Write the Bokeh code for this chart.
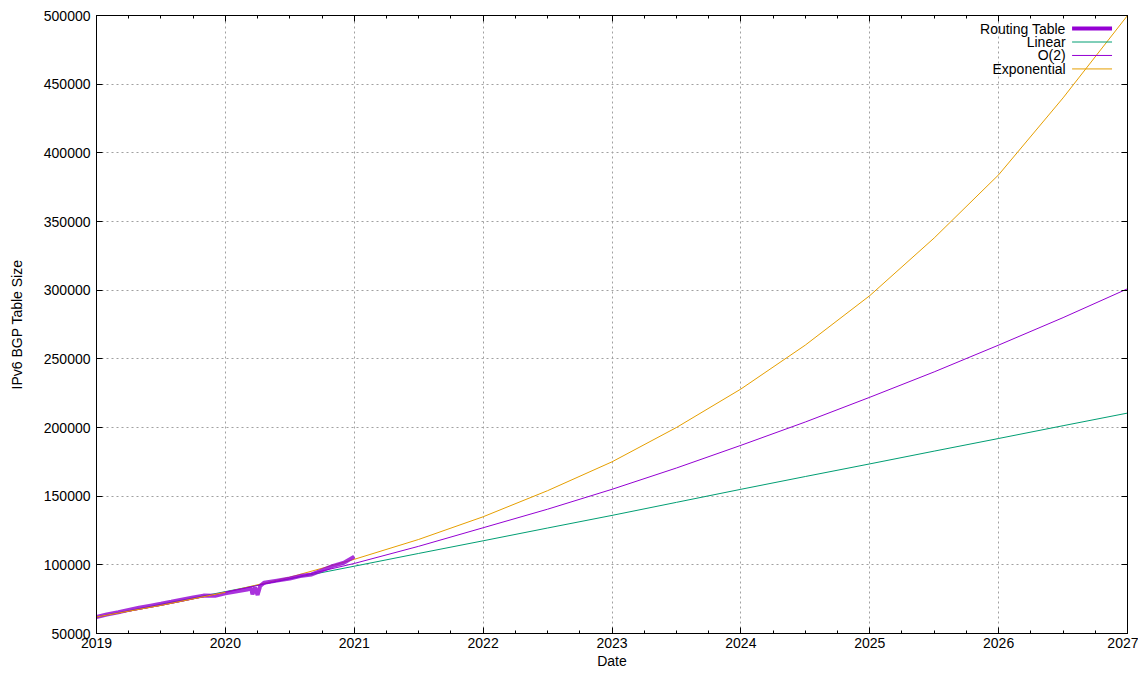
from bokeh.plotting import figure
from bokeh.models import LinearAxis, FixedTicker, Range1d, BasicTickFormatter, Label
from bokeh.embed import file_html
from bokeh.resources import INLINE

# Routing table samples (decimal year, size)
rt_year = [2019.0, 2019.08, 2019.17, 2019.25, 2019.33, 2019.42, 2019.5, 2019.58, 2019.67,
           2019.75, 2019.83, 2019.92, 2020.0, 2020.08, 2020.17, 2020.2, 2020.21, 2020.23,
           2020.25, 2020.27, 2020.3, 2020.4, 2020.5, 2020.58, 2020.67, 2020.75, 2020.83,
           2020.92, 2021.0]
rt_size = [62000, 63800, 65500, 67200, 68800, 70300, 71600, 73100, 74800,
           76300, 77600, 77400, 79200, 80600, 82000, 83000, 78500, 83500,
           78000, 84500, 87000, 88500, 90000, 91800, 93000, 96000, 99000,
           101500, 106000]

fit_year = [2019.0, 2019.5, 2020.0, 2020.5, 2021.0, 2021.5, 2022.0, 2022.5, 2023.0,
            2023.5, 2024.0, 2024.5, 2025.0, 2025.5, 2026.0, 2026.5, 2027.0]
linear = [62000, 71300, 80500, 89800, 99000, 108300, 117500, 126800, 136000,
          145500, 155000, 164300, 173500, 182800, 192000, 201300, 210500]
quad = [62000, 70500, 80000, 90000, 101000, 113500, 127000, 140500, 155000,
        170500, 187000, 204000, 222000, 240500, 260000, 280000, 301000]
expo = [62000, 70500, 80000, 91000, 104000, 118500, 135000, 154000, 175000,
        200000, 228000, 260000, 296000, 338000, 384000, 440000, 500000]

series_names = ["Routing Table", "Linear", "O(2)", "Exponential"]
colors = ["#9400d3", "#009e73", "#9400d3", "#e69f00"]
widths = [4, 1, 1, 1]

x_ticks = list(range(2019, 2028))
y_ticks = list(range(50000, 500001, 50000))
FONT = "Liberation Sans"

p = figure(width=1138, height=671, output_backend="svg", toolbar_location=None,
           x_range=Range1d(2019, 2027), y_range=Range1d(50000, 500000),
           x_axis_label="Date", y_axis_label="IPv6 BGP Table Size",
           min_border_left=96, min_border_right=11, min_border_top=15)
p.outline_line_color = "black"
p.outline_line_width = 1
p.background_fill_color = "white"

for ax in [p.xaxis[0], p.yaxis[0]]:
    ax.major_tick_in = 6
    ax.major_tick_out = 0
    ax.minor_tick_in = 3
    ax.minor_tick_out = 0
    ax.axis_line_color = "black"
    ax.major_label_text_font = FONT
    ax.major_label_text_font_size = "14px"
    ax.major_label_text_color = "black"
    ax.axis_label_text_font = FONT
    ax.axis_label_text_font_size = "14px"
    ax.axis_label_text_font_style = "normal"
    ax.axis_label_text_color = "black"
    ax.axis_label_standoff = 2
    ax.major_label_standoff = 4
p.xaxis[0].ticker = FixedTicker(ticks=x_ticks, minor_ticks=[y + q / 4 for y in range(2019, 2027) for q in range(1, 4)])
p.yaxis[0].ticker = FixedTicker(ticks=y_ticks)
p.yaxis[0].formatter = BasicTickFormatter(use_scientific=False)
p.yaxis[0].major_label_standoff = 6
p.yaxis[0].axis_label_standoff = 16

for side, tk in [("above", FixedTicker(ticks=x_ticks, minor_ticks=p.xaxis[0].ticker.minor_ticks)),
                 ("right", FixedTicker(ticks=y_ticks))]:
    a = LinearAxis(ticker=tk, major_label_text_font_size="0px", major_tick_in=6, major_tick_out=0,
                   minor_tick_in=3, minor_tick_out=0, major_label_standoff=0)
    p.add_layout(a, side)

p.grid.grid_line_color = "#a0a0a0"
p.grid.grid_line_dash = "2 3"

p.line(fit_year, linear, line_color=colors[1], line_width=widths[1])
p.line(fit_year, expo, line_color=colors[3], line_width=widths[3])
p.line(fit_year, quad, line_color=colors[2], line_width=widths[2])
p.line(rt_year, rt_size, line_color=colors[0], line_width=widths[0], line_alpha=0.8)
p.line(fit_year[:3], expo[:3], line_color=colors[3], line_width=1)

# gnuplot-style legend: right-aligned text, sample line to the right
for i, (name, c, w) in enumerate(zip(series_names, colors, widths)):
    yy = 490500 - i * 9800
    p.line([2026.57, 2026.88], [yy, yy], line_color=c, line_width=w)
    p.add_layout(Label(x=2026.52, y=yy, text=name, text_align="right", text_baseline="middle",
                       text_font=FONT, text_font_size="14px", text_color="black"))

open("out.html", "w").write(file_html(p, INLINE))
